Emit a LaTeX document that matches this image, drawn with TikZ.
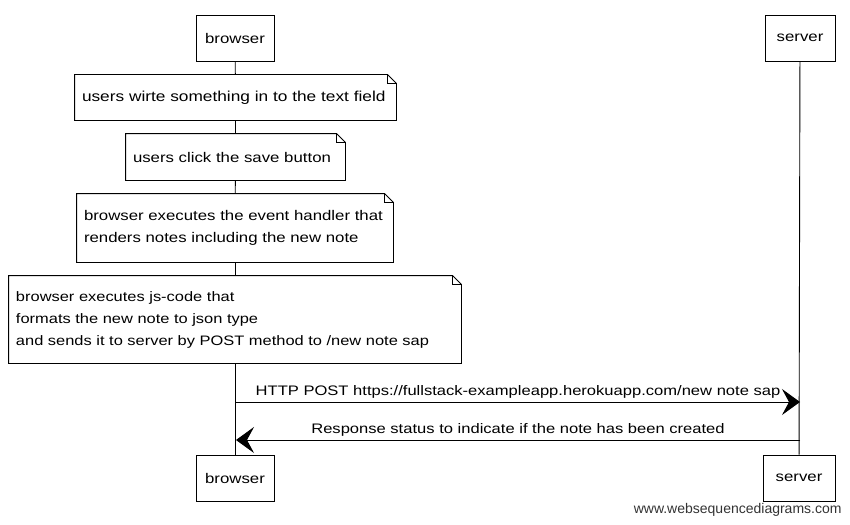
\documentclass[tikz,border=0pt]{standalone}
\usepackage{fontspec}
\setmainfont[FakeStretch=1.2]{Liberation Sans}
\newfontfamily\footerfont{Liberation Sans}
\usetikzlibrary{arrows.meta}
\newcommand\noteoutline[1]{%
  \draw[fill=white] (#1.north west) -- ([xshift=-9pt]#1.north east) -- ([yshift=-9pt]#1.north east)
     -- (#1.south east) -- (#1.south west) -- cycle;
  \draw[line width=0.6pt] ([xshift=-9pt]#1.north east) -- ([xshift=-9pt,yshift=-9pt]#1.north east) -- ([yshift=-9pt]#1.north east);}
\begin{document}
\begin{tikzpicture}[x=1pt,y=-1pt,
  font=\fontsize{14}{22}\selectfont, line width=0.9pt,
  actor/.style={draw, fill=white, minimum width=78pt, minimum height=46pt, inner sep=0pt},
  notebox/.style={inner sep=0pt, align=left, anchor=center},
  lifeline/.style={line width=0.9pt},
  msg/.style={line width=1pt, -{Stealth[length=18pt,width=26pt,inset=7pt]}},
  lbl/.style={above, inner sep=3pt, font=\fontsize{13.8}{16}\selectfont}]
\useasboundingbox (0,0) rectangle (850,524);

% actors
\node[actor] (bt) at (235,38) {browser};
\node[actor, minimum width=70pt] (st) at (800,38) {server};
\node[actor] (bb) at (235,478) {browser};
\node[actor, minimum width=72pt] (sb) at (799,478) {server};

% notes
\node[notebox, minimum width=321pt, minimum height=45pt, text width=307pt] (n1) at (235.5,97.5) {};
\noteoutline{n1}
\node[notebox, minimum width=219pt, minimum height=46pt, text width=205pt] (n2) at (235.5,157) {};
\noteoutline{n2}
\node[notebox, minimum width=316pt, minimum height=68pt, text width=302pt] (n3) at (235,228) {};
\noteoutline{n3}
\node[notebox, minimum width=452pt, minimum height=87pt, text width=438pt] (n4) at (235,319.5) {};
\noteoutline{n4}
% note texts
\node[notebox, text width=307pt, font=\fontsize{14.4}{22}\selectfont] (t1) at (n1) {users wirte something in to the text field};
\node[notebox, text width=205pt] (t2) at (n2) {users click the save button};
\node[notebox, text width=302pt] (t3) at (n3) {browser executes the event handler that\\renders notes including the new note};
\node[notebox, text width=438pt, font=\fontsize{13.7}{22}\selectfont] (t4) at (n4) {browser executes js-code that\\formats the new note to json type\\and sends it to server by POST method to /new note sap};

% lifelines
\draw[lifeline] (bt) -- (n1);
\draw[lifeline] (n1) -- (n2);
\draw[lifeline] (n2) -- (n3);
\draw[lifeline] (n3) -- (n4);
\draw[lifeline] (n4) -- (bb);
\draw[lifeline] (st) -- (sb);

% messages
\coordinate (b1) at (236,402);
\coordinate (s1) at (800,402);
\coordinate (b2) at (236,440);
\coordinate (s2) at (800,440);
\draw[msg] (b1) -- node[lbl] (m1) {HTTP POST https://fullstack-exampleapp.herokuapp.com/new note sap} (s1);
\draw[msg] (s2) -- node[lbl] (m2) {Response status to indicate if the note has been created} (b2);

% footer
\node[anchor=south east, inner sep=0pt, text=black!80, font=\footerfont\fontsize{14}{16}\selectfont] (ft) at (842,517) {www.websequencediagrams.com};
\end{tikzpicture}
\end{document}
